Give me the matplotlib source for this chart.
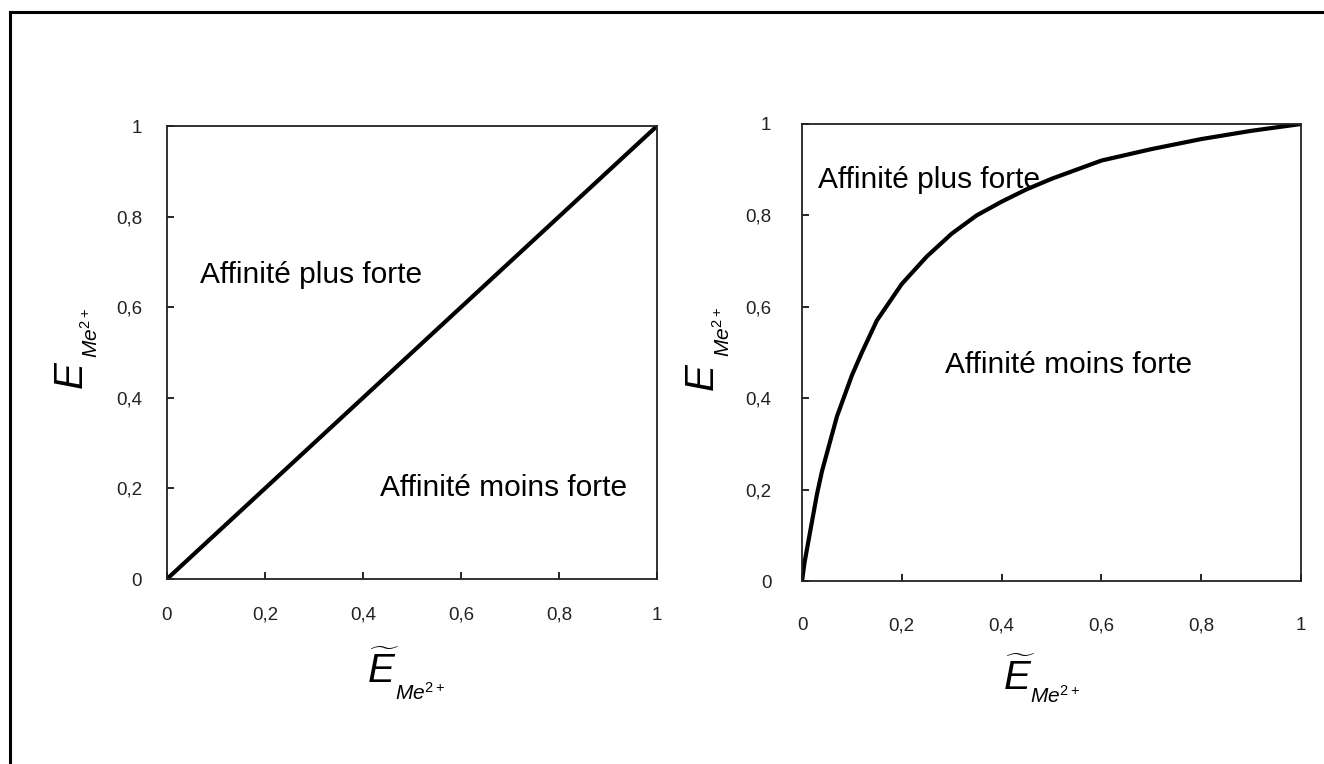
import matplotlib
matplotlib.use("Agg")
import matplotlib.pyplot as plt
from matplotlib.lines import Line2D

plt.rcParams['font.family'] = ['Liberation Sans', 'DejaVu Sans']
plt.rcParams['mathtext.fontset'] = 'custom'
plt.rcParams['mathtext.rm'] = 'Liberation Sans'
plt.rcParams['mathtext.it'] = 'Liberation Sans:italic'

W, H = 1324, 764

# left panel: straight diagonal (equal affinity)
x_left = [0.0, 1.0]
y_left = [0.0, 1.0]

# right panel: curve
x_right = [0.0, 0.005, 0.01, 0.02, 0.03, 0.04, 0.05, 0.06, 0.07, 0.08, 0.09,
           0.10, 0.12, 0.15, 0.175, 0.20, 0.225, 0.25, 0.30, 0.35, 0.40, 0.45,
           0.50, 0.60, 0.70, 0.80, 0.90, 1.0]
y_right = [0.0, 0.04, 0.07, 0.13, 0.19, 0.24, 0.28, 0.32, 0.36, 0.39, 0.42,
           0.45, 0.50, 0.57, 0.61, 0.65, 0.68, 0.71, 0.76, 0.80, 0.83, 0.857,
           0.88, 0.92, 0.945, 0.967, 0.985, 1.0]

ticks = [0, 0.2, 0.4, 0.6, 0.8, 1]
tick_labels = ['0', '0,2', '0,4', '0,6', '0,8', '1']

label_plus = "Affinité plus forte"
label_moins = "Affinité moins forte"
big_x = r"$\widetilde{E}$"
big_y = "E"
sub = r"$Me^{2+}$"

fig = plt.figure(figsize=(W / 100, H / 100), dpi=100)


def px(x, y):
    # pixel position (from top-left) -> figure fraction
    return x / W, 1 - y / H


# frame lines top / left of the figure
fig.add_artist(Line2D([10 / W, 10 / W], [0, 1 - 12 / H], color='black', lw=2.2,
                      transform=fig.transFigure))
fig.add_artist(Line2D([10 / W, 1], [1 - 12 / H, 1 - 12 / H], color='black', lw=2.2,
                      transform=fig.transFigure))

ax1 = fig.add_axes([167 / W, 1 - 579 / H, 490 / W, 453 / H])
ax2 = fig.add_axes([802 / W, 1 - 581 / H, 499 / W, 457 / H])


def style(ax, xpad, ypad):
    ax.set_xlim(0, 1)
    ax.set_ylim(0, 1)
    for s in ax.spines.values():
        s.set_linewidth(1.3)
        s.set_color('#222222')
    ax.set_xticks(ticks)
    ax.set_yticks(ticks)
    ax.set_xticklabels(tick_labels, fontsize=13.5, color='#222222')
    ax.set_yticklabels(tick_labels, fontsize=13.5, color='#222222')
    ax.tick_params(direction='in', length=5, width=1.2, top=False, right=False)
    ax.tick_params(axis='x', pad=xpad)
    ax.tick_params(axis='y', pad=ypad)


style(ax1, 20, 18)
style(ax2, 26, 22)

ax1.plot(x_left, y_left, color='black', lw=3, solid_capstyle='butt')
ax2.plot(x_right, y_right, color='black', lw=3, solid_capstyle='butt',
         solid_joinstyle='round')

ax1.text(0.067, 0.671, label_plus, fontsize=21.5, va='center', ha='left')
ax1.text(0.435, 0.20, label_moins, fontsize=21.5, va='center', ha='left')
ax2.text(0.032, 0.877, label_plus, fontsize=21.5, va='center', ha='left')
ax2.text(0.287, 0.473, label_moins, fontsize=21.5, va='center', ha='left')

# axis labels: big E with a small italic subscript set lower
for ex, ey, sx, sy in [(367, 683, 395, 700), (1003, 690, 1030, 703)]:
    fig.text(*px(ex, ey), big_x, fontsize=29, ha='left', va='baseline')
    fig.text(*px(sx, sy), sub, fontsize=15, ha='left', va='baseline')

for ex, ey, sx, sy in [(82, 388, 98, 358), (713, 390, 730, 357)]:
    fig.text(*px(ex, ey), big_y, fontsize=29, style='italic', rotation=90,
             rotation_mode='anchor', ha='left', va='baseline')
    fig.text(*px(sx, sy), sub, fontsize=15, rotation=90,
             rotation_mode='anchor', ha='left', va='baseline')

fig.savefig("out.png", dpi=100, facecolor='white')
